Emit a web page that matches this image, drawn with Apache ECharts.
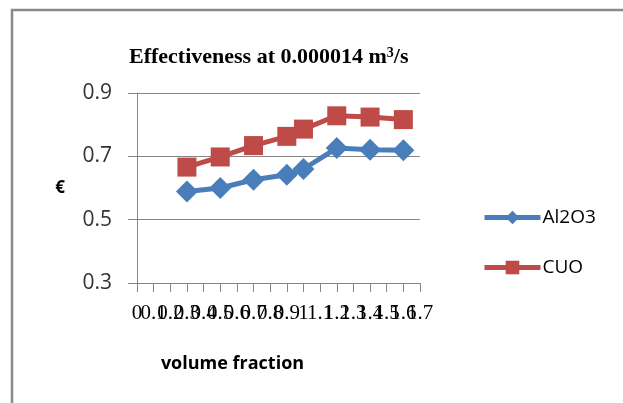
<!DOCTYPE html>
<html>
<head>
    <meta charset="utf-8">
    <script src="https://cdn.jsdelivr.net/npm/echarts@6/dist/echarts.min.js"></script>
    <style>
        html, body { margin: 0; padding: 0; background: #fff; }
    </style>
</head>
<body>
    <div id="chart" style="width: 623px;height:403px;"></div>
    <script type="text/javascript">
        // volume fraction categories
        var categories = ['0', '0.1', '0.2', '0.3', '0.4', '0.5', '0.6', '0.7', '0.8',
                          '0.9', '1', '1.1', '1.2', '1.3', '1.4', '1.5', '1.6', '1.7'];
        var al2o3 = [null, null, null, 0.589, null, 0.600, null, 0.626, null,
                     0.642, 0.660, null, 0.726, null, 0.721, null, 0.719, null];
        var cuo   = [null, null, null, 0.666, null, 0.698, null, 0.734, null,
                     0.763, 0.786, null, 0.828, null, 0.824, null, 0.816, null];
        var yTicks = [0.3, 0.5, 0.7, 0.9];

        var option = {
            animation: false,
            title: {
                text: 'Effectiveness at 0.000014 m{sup|3}/s',
                left: 124,
                top: 41,
                textStyle: {
                    fontFamily: 'Liberation Serif',
                    fontSize: 22,
                    fontWeight: 'bold',
                    color: '#000',
                    rich: {
                        sup: { fontFamily: 'Liberation Serif', fontSize: 14, fontWeight: 'bold', verticalAlign: 'top', padding: [0, 0, 9, 0] }
                    }
                }
            },
            legend: {
                orient: 'vertical',
                left: 477,
                top: 203,
                itemWidth: 56,
                itemHeight: 17,
                itemGap: 31,
                lineStyle: { width: 5 },
                textStyle: { fontFamily: 'Open Sans', fontSize: 19, color: '#000', padding: [0, 0, 0, -3] },
                data: ['Al2O3', 'CUO']
            },
            grid: {
                left: 137,
                right: 203,
                top: 93,
                bottom: 120
            },
            xAxis: {
                type: 'category',
                boundaryGap: false,
                data: categories,
                name: 'volume fraction',
                nameLocation: 'middle',
                nameGap: 72,
                nameTextStyle: { fontFamily: 'Open Sans', fontSize: 18, fontWeight: 'bold', color: '#000', padding: [0, 92, 0, 0] },
                axisLine: { lineStyle: { color: '#868686', width: 1 } },
                axisTick: { show: true, length: 9, inside: false, lineStyle: { color: '#868686' } },
                axisLabel: {
                    interval: 0,
                    hideOverlap: false,
                    margin: 20,
                    fontFamily: 'Liberation Serif',
                    fontSize: 21,
                    color: '#000'
                },
                splitLine: { show: false }
            },
            yAxis: {
                type: 'value',
                min: yTicks[0],
                max: yTicks[yTicks.length - 1],
                interval: 0.2,
                name: '€',
                nameLocation: 'middle',
                nameRotate: 0,
                nameGap: 72,
                nameTextStyle: { fontFamily: 'Open Sans', fontSize: 17, fontWeight: 'bold', color: '#000', padding: [6, 0, 0, 0] },
                axisLine: { show: true, lineStyle: { color: '#868686', width: 1 } },
                axisTick: { show: true, length: 9, lineStyle: { color: '#868686' } },
                axisLabel: {
                    margin: 25,
                    fontFamily: 'Open Sans',
                    fontSize: 21,
                    color: '#333',
                    formatter: function (v) { return v.toFixed(1); }
                },
                splitLine: { lineStyle: { color: '#868686', width: 1 } }
            },
            series: [
                {
                    name: 'Al2O3',
                    type: 'line',
                    data: al2o3,
                    connectNulls: true,
                    symbol: 'diamond',
                    symbolSize: 22,
                    lineStyle: { color: '#4A7EBB', width: 5 },
                    itemStyle: { color: '#4A7EBB' }
                },
                {
                    name: 'CUO',
                    type: 'line',
                    data: cuo,
                    connectNulls: true,
                    symbol: 'rect',
                    symbolSize: 19,
                    lineStyle: { color: '#BE4B48', width: 5 },
                    itemStyle: { color: '#BE4B48' }
                }
            ],
            graphic: [
                {
                    type: 'rect',
                    shape: { x: 12, y: 10, width: 650, height: 430 },
                    style: { fill: null, stroke: '#8a8a8a', lineWidth: 2.5 },
                    silent: true
                }
            ]
        };

        var myChart = echarts.init(document.getElementById("chart"));
        myChart.setOption(option);
    </script>
</body>
</html>
